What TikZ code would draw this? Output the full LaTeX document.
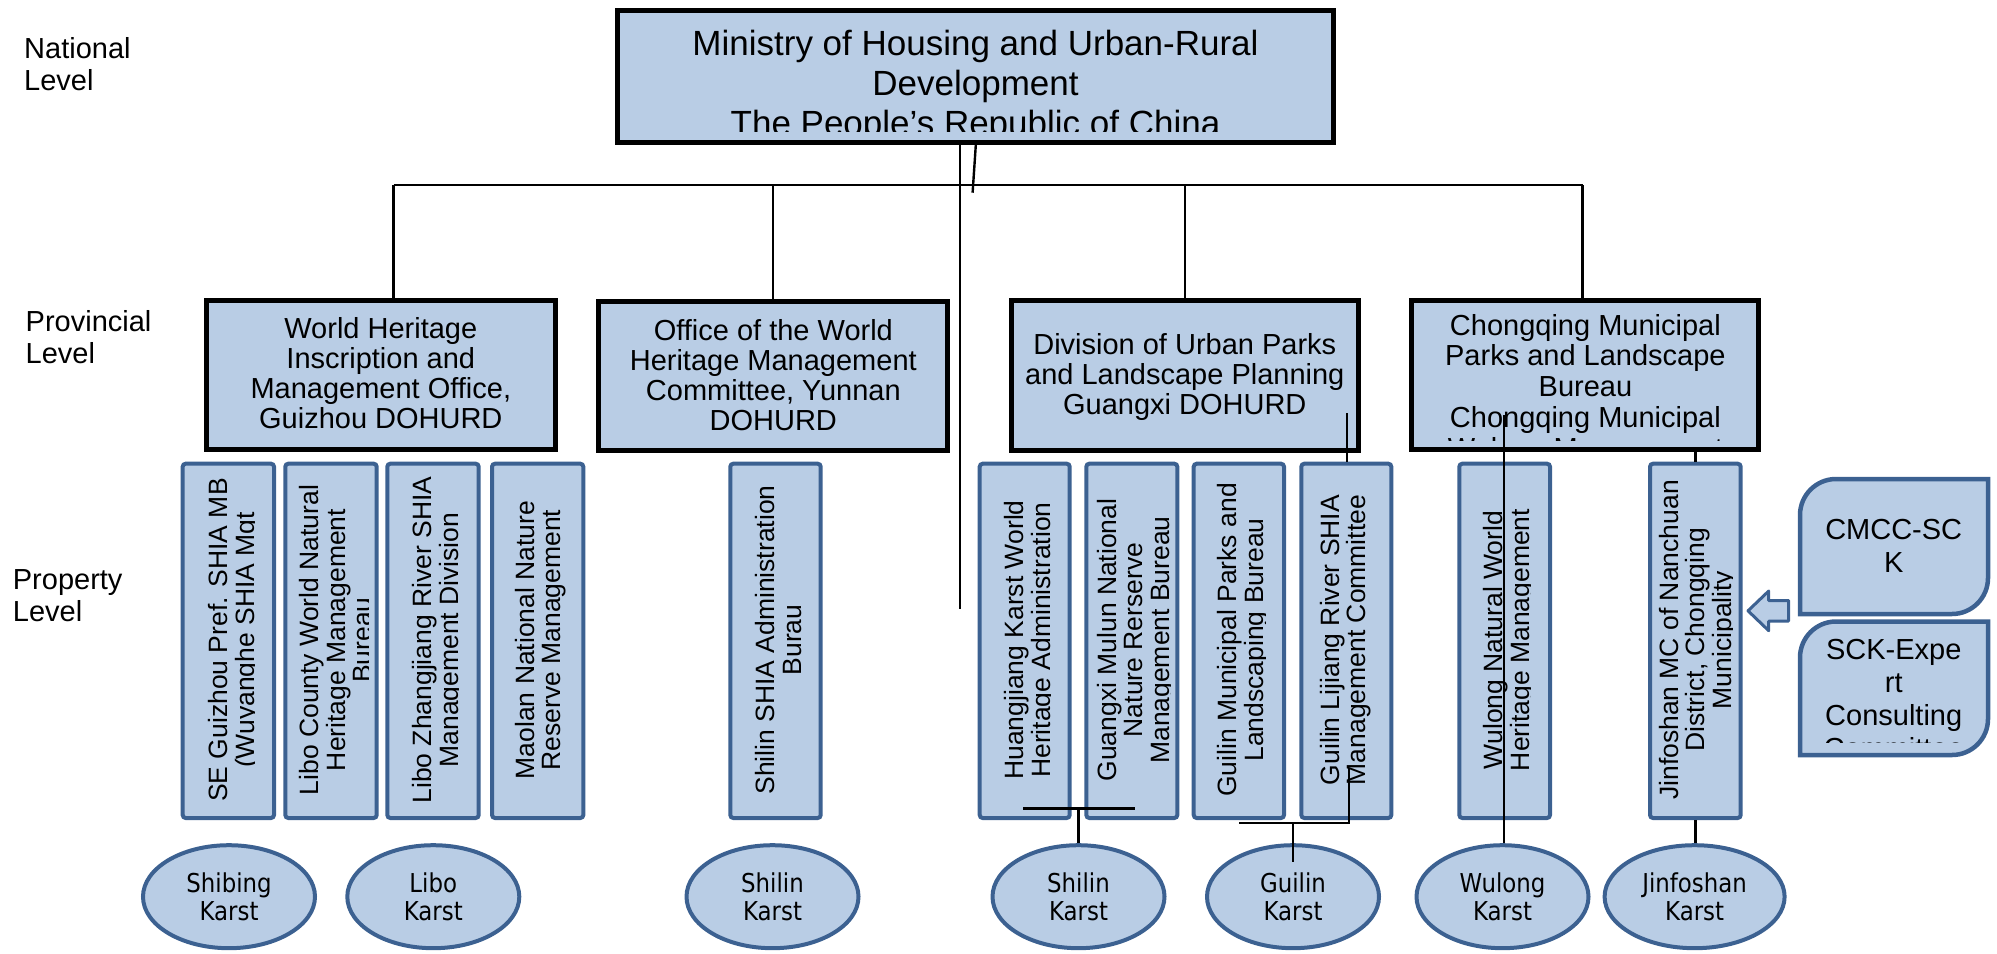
\documentclass[tikz,border=0pt]{standalone}
\usepackage{fontspec}
\setmainfont{Liberation Sans}
\newfontfamily\karstfont[FakeStretch=0.88]{DejaVu Sans}
\usetikzlibrary{shapes.geometric}
\definecolor{lb}{RGB}{185,205,229}
\definecolor{bd}{RGB}{60,97,145}
\tikzset{
  conn/.style={black, line width=2.4},
  blkbox/.style={rectangle, draw=black, line width=5, fill=lb, inner sep=0},
  propbox/.style={rectangle, draw=bd, line width=4, fill=lb, rounded corners=3, inner sep=0},
  proptext/.style={rotate=90, align=center, inner sep=0, font=\fontsize{26.5}{26.5}\selectfont},
  provtext/.style={anchor=north, align=center, inner sep=0, font=\fontsize{29}{30}\selectfont},
  toptext/.style={anchor=north, align=center, inner sep=0, font=\fontsize{35}{40}\selectfont},
  lvl/.style={anchor=north west, align=left, inner sep=0, font=\fontsize{29}{32}\selectfont},
  karst/.style={ellipse, draw=bd, line width=4, fill=lb, minimum width=172, minimum height=103,
    inner sep=0, align=center, font=\karstfont\fontsize{26}{28.5}\selectfont},
  cbox/.style={draw=bd, line width=4.5, fill=lb},
  ctext/.style={anchor=north, align=center, inner sep=0, font=\fontsize{29}{33}\selectfont},
}
\newcommand\provbox[5]{%
  \node[blkbox, minimum width={#3-#2-5}, minimum height={#5-#4-5}] (#1) at ({(#2+#3)/2},{(#4+#5)/2}) {};}
\newcommand\propertybox[6]{%
  \node[propbox, minimum width={#3-#2-4}, minimum height={820-461.7-4}] (#1) at ({(#2+#3)/2},640.85) {};
  \begin{scope}
    \clip (#2,462) rectangle (#5,820);
    \node[proptext] (#1-t) at (#4,640) {#6};
  \end{scope}}
\begin{document}
\begin{tikzpicture}[x=1pt,y=-1pt]
\useasboundingbox (0,0) rectangle (1997,953);

% level labels
\node[lvl] (natl) at (24,37) {National\\Level};
\node[lvl] (provl) at (25.5,310) {Provincial\\Level};
\node[lvl] (propl) at (12.7,569) {Property\\Level};

% national box
\node[blkbox, minimum width=715.3, minimum height=131.7] (top) at (975.55,76.65) {};
\begin{scope}
  \clip (615,8) rectangle (1336,131);
  \node[toptext] (top-t) at (975.5,30) {Ministry of Housing and Urban-Rural\\Development\\The People’s Republic of China};
\end{scope}

% provincial boxes
\provbox{P1}{203.6}{558}{298}{452}
\provbox{P2}{596.3}{950.3}{299}{453}
\provbox{P3}{1008.8}{1360.7}{298}{452.7}
\provbox{P4}{1409.4}{1761.3}{298}{452}
\node[provtext] (P1-t) at (380.8,317.3) {World Heritage\\Inscription and\\Management Office,\\Guizhou DOHURD};
\node[provtext] (P2-t) at (773.3,319) {Office of the World\\Heritage Management\\Committee, Yunnan\\DOHURD};
\node[provtext] (P3-t) at (1184.8,333) {Division of Urban Parks\\and Landscape Planning\\Guangxi DOHURD};
\begin{scope}
  \clip (1409,298) rectangle (1761,440);
  \node[provtext, font=\fontsize{29}{30.7}\selectfont] (P4-t) at (1585.4,314) {Chongqing Municipal\\Parks and Landscape\\Bureau\\Chongqing Municipal\\Wulong Management};
\end{scope}

% property boxes
\propertybox{B1}{180.7}{276}{234.2}{254}{SE Guizhou Pref. SHIA MB\\(Wuyanghe SHIA Mgt}
\propertybox{B2}{283.3}{378.7}{335.6}{368}{Libo County World Natural\\Heritage Management\\Bureau}
\propertybox{B3}{385.3}{480.7}{438.3}{458}{Libo Zhangjiang River SHIA\\Management Division}
\propertybox{B4}{490}{585.3}{540.8}{585}{Maolan National Nature\\Reserve Management}
\propertybox{B5}{728.3}{822.7}{778.3}{801}{Shilin SHIA Administration\\Burau}
\propertybox{B6}{977.7}{1071.7}{1030}{1050}{Huangjiang Karst World\\Heritage Administration}
\propertybox{B7}{1084.3}{1179.3}{1136.1}{1170}{Guangxi Mulun National\\Nature Rerserve\\Management Bureau}
\propertybox{B8}{1191.7}{1286}{1243.3}{1265}{Guilin Municipal Parks and\\Landscaping Bureau}
\propertybox{B9}{1299.3}{1393.3}{1345.8}{1393}{Guilin Lijiang River SHIA\\Management Committee}
\propertybox{B10}{1457.3}{1552}{1509}{1530}{Wulong Natural World\\Heritage Management}
\propertybox{B11}{1648}{1742.7}{1698}{1732}{Jinfoshan MC of Nanchuan\\District, Chongqing\\Municipality}

% consulting boxes and arrow
\draw[cbox] (1800,614) -- (1800,546) [rounded corners=36] -- (1800,479) -- (1900,479) [sharp corners] -- (1988,479) -- (1988,546) [rounded corners=36] -- (1988,614) -- (1900,614) [sharp corners] -- cycle;
\node[ctext] (cmcc-t) at (1893.7,519) {CMCC-SC\\K};
\draw[cbox] (1800,755) -- (1800,688) [rounded corners=36] -- (1800,621.5) -- (1900,621.5) [sharp corners] -- (1988,621.5) -- (1988,688) [rounded corners=36] -- (1988,755) -- (1900,755) [sharp corners] -- cycle;
\begin{scope}
  \clip (1800,621) rectangle (1988,742.5);
  \node[ctext] (sck-t) at (1893.7,639) {SCK-Expe\\rt\\Consulting\\Committee};
\end{scope}
\draw[draw=bd, fill=lb, line width=3, line join=round] (1748,610.8) -- (1768.7,591) -- (1768.7,600.5) -- (1788.5,600.5) -- (1788.5,621.2) -- (1768.7,621.2) -- (1768.7,630.7) -- cycle;

% sites
\node[karst] (e1) at (229,896.7) {Shibing\\Karst};
\node[karst] (e2) at (433.3,896.7) {Libo\\Karst};
\node[karst] (e3) at (772.5,896.7) {Shilin\\Karst};
\node[karst] (e4) at (1078.5,896.7) {Shilin\\Karst};
\node[karst] (e5) at (1293,896.7) {Guilin\\Karst};
\node[karst] (e6) at (1502.5,896.7) {Wulong\\Karst};
\node[karst, minimum width=180] (e7) at (1694.6,896.7) {Jinfoshan\\Karst};

% connectors
\coordinate (stemEnd) at (960,609);
\draw[conn] (stemEnd |- top.south) -- (stemEnd);
\coordinate (s2) at (972.6,192.7);
\draw[conn] (top.south -| 975.8,0) -- (s2);
\coordinate (busL) at (393.5,185);
\coordinate (d2) at (773,185);
\coordinate (d3) at (1185,185);
\coordinate (busR) at (1582.5,185);
\draw[conn] (busL) -- (busR);
\draw[conn] (busL) -- (busL |- P1.north);
\draw[conn] (d2) -- (d2 |- P2.north);
\draw[conn] (d3) -- (d3 |- P3.north);
\draw[conn] (busR) -- (busR |- P4.north);
\coordinate (g1) at (1347,413);
\draw[conn] (g1) -- (g1 |- B9.north);
\coordinate (w1) at (1504,415);
\draw[conn] (w1) -- (w1 |- e6.north);
\draw[conn] (B11.north |- P4.south) -- (B11.north);
\draw[conn] (B11.south) -- (B11.south |- e7.north);
\coordinate (h1) at (1023.3,808.3);
\coordinate (h2) at (1135,808.3);
\draw[conn] (h1) -- (h2);
\draw[conn] (e4.north |- h1) -- (e4.north);
\coordinate (k1) at (1349,768);
\coordinate (k2) at (1239,823);
\draw[conn] (k1) |- (k2);
\draw[conn] (e5.north |- k2) -- ++(0,39);
\end{tikzpicture}
\end{document}
